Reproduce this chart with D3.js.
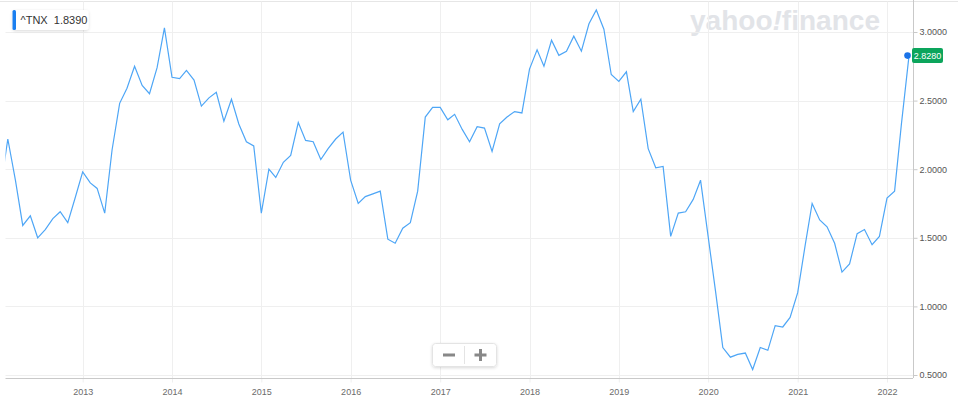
<!DOCTYPE html>
<html>
<head>
<meta charset="utf-8">
<script src="https://cdn.jsdelivr.net/npm/d3@7"></script>
<style>
html,body{margin:0;padding:0;background:#fff;}
svg{display:block;font-family:"Liberation Sans",Arial,Helvetica,sans-serif;}
</style>
</head>
<body>
<svg id="chart" width="958" height="403"></svg>
<script>
// ---- data ----
const symbol = "^TNX";
const legendValue = "1.8390";
const lastLabel = "2.8280";
const startYear = 2012, startMonth = 1; // Feb 2012, monthly points
const yields = [
  1.87, 2.22, 1.92, 1.59, 1.66, 1.50, 1.56, 1.64, 1.69, 1.61, 1.79,
  1.98, 1.90, 1.86, 1.68, 2.14, 2.48, 2.59, 2.75, 2.61, 2.55, 2.74, 3.03,
  2.67, 2.66, 2.72, 2.65, 2.46, 2.52, 2.56, 2.35, 2.51, 2.33, 2.20, 2.17,
  1.68, 2.00, 1.94, 2.05, 2.10, 2.34, 2.21, 2.20, 2.07, 2.15, 2.22, 2.27,
  1.92, 1.75, 1.80, 1.82, 1.84, 1.49, 1.46, 1.57, 1.61, 1.84, 2.38, 2.45,
  2.45, 2.36, 2.40, 2.29, 2.20, 2.31, 2.30, 2.13, 2.33, 2.38, 2.42, 2.41,
  2.73, 2.87, 2.75, 2.94, 2.83, 2.86, 2.97, 2.86, 3.06, 3.16, 3.02, 2.69,
  2.64, 2.71, 2.42, 2.51, 2.15, 2.01, 2.02, 1.51, 1.68, 1.69, 1.78, 1.92,
  1.51, 1.10, 0.70, 0.63, 0.65, 0.66, 0.54, 0.70, 0.68, 0.86, 0.85, 0.92,
  1.10, 1.45, 1.75, 1.63, 1.58, 1.46, 1.25, 1.31, 1.53, 1.56, 1.45, 1.51,
  1.79, 1.84, 2.33, 2.828
];
const yTicks = [0.5, 1.0, 1.5, 2.0, 2.5, 3.0];
const xTickYears = [2013, 2014, 2015, 2016, 2017, 2018, 2019, 2020, 2021, 2022];

const data = yields.map((v, i) => ({date: new Date(startYear, startMonth + i, 1), value: v}));

// ---- layout ----
const svg = d3.select("#chart");
const L = 5.5, R = 913, T = 1.5, B = 378;

const x = d3.scaleTime()
  .domain([new Date(2013, 0, 1), new Date(2022, 0, 1)])
  .range([82.7, 887]);
const y = d3.scaleLinear().domain([0.5, 3.0]).range([375, 32]);

const gridColor = "#efefef";
const axisColor = "#c9c9c9";
const textColor = "#6b6b6b";

// top border
svg.append("line").attr("x1", 0).attr("x2", 958).attr("y1", T).attr("y2", T)
  .attr("stroke", "#e6e6e6").attr("stroke-width", 1);

// watermark
const wm = svg.append("text").attr("x", 690).attr("y", 30)
  .attr("font-size", 27).attr("font-weight", "bold")
  .attr("fill", "#e2e4e8").attr("textLength", 190).attr("lengthAdjust", "spacingAndGlyphs");
wm.append("tspan").text("yahoo");
wm.append("tspan").attr("font-style", "italic").text("!");
wm.append("tspan").text("finance");

// horizontal gridlines
svg.append("g").selectAll("line").data(yTicks).join("line")
  .attr("x1", L).attr("x2", R)
  .attr("y1", d => Math.round(y(d)) + 0.5).attr("y2", d => Math.round(y(d)) + 0.5)
  .attr("stroke", gridColor);

// vertical gridlines
svg.append("g").selectAll("line").data(xTickYears).join("line")
  .attr("x1", d => Math.round(x(new Date(d, 0, 1))) + 0.5)
  .attr("x2", d => Math.round(x(new Date(d, 0, 1))) + 0.5)
  .attr("y1", T).attr("y2", B)
  .attr("stroke", gridColor);

// x axis
const xAxis = d3.axisBottom(x)
  .tickValues(xTickYears.map(yy => new Date(yy, 0, 1)))
  .tickFormat(d3.timeFormat("%Y"))
  .tickSize(4).tickSizeOuter(0).tickPadding(6);
const gx = svg.append("g").attr("transform", `translate(0,${B + 0.5})`).call(xAxis);
gx.select(".domain").remove();
gx.append("line").attr("x1", L).attr("x2", R).attr("y1", 0).attr("y2", 0).attr("stroke", axisColor);
gx.selectAll(".tick line").attr("stroke", gridColor);
gx.selectAll(".tick text").attr("fill", textColor).attr("font-size", 9)
  .attr("font-family", "'Liberation Sans',Arial,sans-serif");

// y axis right
const yAxis = d3.axisRight(y).tickValues(yTicks).tickFormat(d3.format(".4f"))
  .tickSize(4).tickSizeOuter(0).tickPadding(2);
const gy = svg.append("g").attr("transform", `translate(${R + 0.5},0)`).call(yAxis);
gy.select(".domain").remove();
gy.append("line").attr("x1", 0).attr("x2", 0).attr("y1", 0).attr("y2", B).attr("stroke", axisColor);
gy.selectAll(".tick line").attr("stroke", axisColor);
gy.selectAll(".tick text").attr("fill", "#555").attr("font-size", 9)
  .attr("font-family", "'Liberation Sans',Arial,sans-serif");

// clip
svg.append("defs").append("clipPath").attr("id", "plotclip")
  .append("rect").attr("x", L).attr("y", T).attr("width", R - L).attr("height", B - T);

// line
const line = d3.line().x(d => x(d.date)).y(d => y(d.value));
svg.append("path").datum(data)
  .attr("clip-path", "url(#plotclip)")
  .attr("fill", "none").attr("stroke", "#4ea6f6").attr("stroke-width", 1.2)
  .attr("stroke-linejoin", "miter").attr("d", line);

// last point dot
const last = data[data.length - 1];
svg.append("circle").attr("cx", x(last.date) - 1.5).attr("cy", y(last.value))
  .attr("r", 3.3).attr("fill", "#1a73e8");

// last value label
const ly = y(last.value);
svg.append("rect").attr("x", R - 1).attr("y", ly - 7.5).attr("width", 31).attr("height", 15)
  .attr("rx", 2).attr("fill", "#0ca55c");
svg.append("text").attr("x", R + 14.5).attr("y", ly + 3.2).attr("text-anchor", "middle")
  .attr("font-size", 9).attr("fill", "#fff").text(lastLabel);

// legend box
const defs = svg.select("defs");
const f = defs.append("filter").attr("id", "shadow").attr("x", "-20%").attr("y", "-50%")
  .attr("width", "140%").attr("height", "200%");
f.append("feDropShadow").attr("dx", 0).attr("dy", 1).attr("stdDeviation", 1.5)
  .attr("flood-color", "#000").attr("flood-opacity", 0.15);
svg.append("rect").attr("x", 12.5).attr("y", 10).attr("width", 76).attr("height", 20)
  .attr("rx", 3).attr("fill", "#fff").attr("filter", "url(#shadow)");
svg.append("rect").attr("x", 12.5).attr("y", 10).attr("width", 3.5).attr("height", 20)
  .attr("rx", 1.5).attr("fill", "#1a7ff0");
svg.append("text").attr("x", 20.5).attr("y", 24).attr("font-size", 11)
  .attr("fill", "#333").attr("xml:space", "preserve")
  .text(symbol + "  " + legendValue);

// zoom buttons
svg.append("rect").attr("x", 432.5).attr("y", 343.5).attr("width", 64).attr("height", 23)
  .attr("rx", 3).attr("fill", "#fff").attr("stroke", "#e4e4e4").attr("filter", "url(#shadow)");
svg.append("line").attr("x1", 464.5).attr("x2", 464.5).attr("y1", 346).attr("y2", 364).attr("stroke", "#e4e4e4");
svg.append("rect").attr("x", 443).attr("y", 353.5).attr("width", 12).attr("height", 3).attr("fill", "#888");
svg.append("rect").attr("x", 474.5).attr("y", 353.5).attr("width", 12).attr("height", 3).attr("fill", "#888");
svg.append("rect").attr("x", 479).attr("y", 349).attr("width", 3).attr("height", 12).attr("fill", "#888");
</script>
</body>
</html>
